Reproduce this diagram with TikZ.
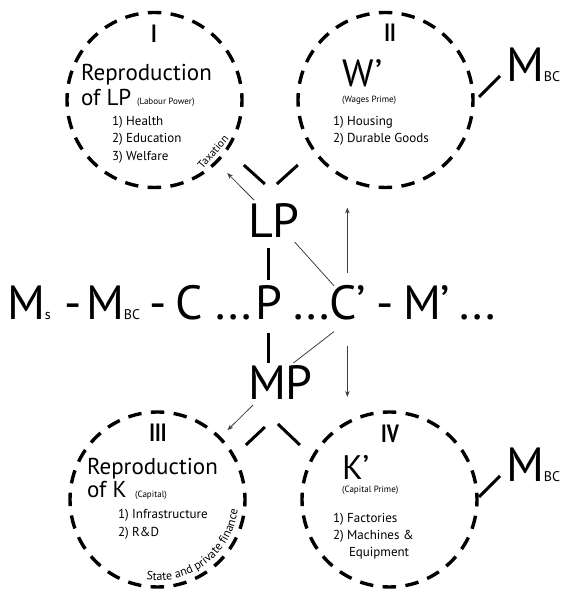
\documentclass[tikz,border=0pt]{standalone}
\usepackage{fontspec}
\setmainfont{PT Sans}
\newfontfamily\romfont[FakeStretch=0.8]{PT Sans}
\usetikzlibrary{arrows.meta,decorations.text}
\newcommand{\bigfs}{\fontsize{48}{48}\selectfont}
\newcommand{\primefs}{\fontsize{38}{38}\selectfont}
\newcommand{\midfs}{\fontsize{23}{23}\selectfont}
\newcommand{\listfs}{\fontsize{13}{13}\selectfont}
\newcommand{\subfs}{\fontsize{14}{14}\selectfont}
\newcommand{\tinyfs}{\fontsize{9}{9}\selectfont}
\newcommand{\numfs}{\romfont\bfseries\fontsize{25}{25}\selectfont}

\begin{document}
\begin{tikzpicture}[x=1pt, y=1pt,
    txt/.style={inner sep=0pt, outer sep=0pt, anchor=base west},
    ring/.style={circle, draw, line width=3.4pt, dash pattern=on 13.5pt off 9.4pt,
        dash phase=6.75pt, minimum size=175pt, inner sep=0pt, outer sep=0pt},
    heavy/.style={line width=3pt},
    link/.style={line width=0.8pt, black!75},
    arr/.style={link, -{Stealth[length=6pt, width=4.5pt]}}]
    \useasboundingbox (0,0) rectangle (565,589);

    % the four circles
    \node[ring] (cI) at (154.5,489) {};
    \node[ring] (cII) at (385.5,489) {};
    \node[ring] (cIII) at (157.5,89.5) {};
    \node[ring] (cIV) at (389.5,89.5) {};
    \node[txt, anchor=base] (nI) at (154,546) {\numfs I};
    \node[txt, anchor=base] (nII) at (390,547) {\numfs II};
    \node[txt, anchor=base] (nIII) at (158,147) {\numfs III};
    \node[txt, anchor=base] (nIV) at (390,146) {\numfs IV};

    % I
    \node[txt] (repLP) at (81,508) {\midfs Reproduction};
    \node[txt] (ofLP) at (81,483) {\midfs of LP};
    \node[txt] (labour) at (137,484) {\tinyfs (Labour Power)};
    \node[txt] (health) at (112,463) {\listfs 1) Health};
    \node[txt] (educ) at (112,446) {\listfs 2) Education};
    \node[txt] (welfare) at (112,428) {\listfs 3) Welfare};
    \node[inner sep=0pt, rotate=49, font=\fontsize{11}{11}\selectfont] (tax) at (213,437) {Taxation};

    % II
    \node[txt] (wp) at (342,502) {\primefs W’};
    \node[txt] (wages) at (342,486) {\tinyfs (Wages Prime)};
    \node[txt] (housing) at (333,463) {\listfs 1) Housing};
    \node[txt] (durable) at (333,446) {\listfs 2) Durable Goods};

    % III
    \node[txt] (repK) at (87,114) {\midfs Reproduction};
    \node[txt] (ofK) at (87,91) {\midfs of K};
    \node[txt] (capital) at (135,91) {\tinyfs (Capital)};
    \node[txt] (infra) at (118,70) {\listfs 1) Infrastructure};
    \node[txt] (rnd) at (118,52) {\listfs 2) R\&D};
    \path[decorate, decoration={text along path, text align=center,
        text={|\fontsize{12}{12}\selectfont|State and private finance}}]
        ([shift={(250:81)}]cIII.center) arc[start angle=250, end angle=365, radius=81];

    % IV
    \node[txt] (kp) at (342,109) {\fontsize{34}{34}\selectfont K’};
    \node[txt] (kprime) at (342,96) {\tinyfs (Capital Prime)};
    \node[txt] (fact) at (333,66) {\listfs 1) Factories};
    \node[txt] (mach) at (333,49) {\listfs 2) Machines \&};
    \node[txt] (equip) at (349,32) {\listfs Equipment};

    % circuit
    \node[txt] (ms) at (7,269) {\bigfs M{\subfs s}};
    \node[txt] (h1) at (64,269) {\bigfs -};
    \node[txt] (mbc) at (86,269) {\bigfs M{\subfs BC}};
    \node[txt] (h2) at (149,269) {\bigfs -};
    \node[txt] (c) at (175,269) {\bigfs C};
    \node[txt] (dots1) at (215,269) {\bigfs ...};
    \node[txt] (p) at (255,269) {\bigfs P};
    \node[txt] (dots2) at (293,269) {\bigfs ...};
    \node[txt] (cp) at (329,269) {\bigfs C’};
    \node[txt] (h3) at (376,269) {\bigfs -};
    \node[txt] (mpr) at (403,269) {\bigfs M’};
    \node[txt] (dots3) at (459,269) {\bigfs ...};
    \node[txt] (lp) at (248,351) {\bigfs LP};
    \node[txt] (mp) at (248,189) {\bigfs MP};
    \node[txt] (mbcI) at (506,507) {\bigfs M{\subfs BC}};
    \node[txt] (mbcIV) at (506,107) {\bigfs M{\subfs BC}};

    % connectors
    \draw[heavy, shorten <=6pt, shorten >=10pt] (p.north) -- (p.north |- lp.south);
    \draw[heavy, shorten <=13pt, shorten >=3pt] (p.south) -- (p.south |- mp.north);
    \draw[link] ([shift={(-5pt,-4pt)}]lp.south east) -- ([xshift=5pt]cp.north west);
    \draw[link] ([shift={(5pt,-11pt)}]cp.south west) -- ([shift={(13pt,3pt)}]mp.north);
    \draw[arr, shorten <=13pt, shorten >=20pt] (cp.north) -- (cp.north |- cII.south);
    \draw[arr, shorten <=25pt, shorten >=15pt] (cp.south) -- (cp.south |- cIV.north);
    \draw[arr, shorten >=15.5pt] ([shift={(6pt,4pt)}]lp.north west) -- (cI);
    \draw[arr, shorten >=11pt] ([shift={(5pt,-5pt)}]mp.south west) -- (cIII);
    \draw[heavy] ([shift={(-9pt,20pt)}]lp.north) -- ++(-21,19);
    \draw[heavy] ([shift={(3pt,20pt)}]lp.north) -- ++(21,19);
    \draw[heavy] ([shift={(-15.5pt,-27pt)}]mp.south) -- ++(-19,-18);
    \draw[heavy] ([shift={(-2.5pt,-24pt)}]mp.south) -- ++(22,-21);
    \draw[heavy] ([shift={(-6pt,6pt)}]mbcI.base west) -- ++(-21,-21);
    \draw[heavy] ([shift={(-6pt,6pt)}]mbcIV.base west) -- ++(-21,-21);
\end{tikzpicture}
\end{document}
